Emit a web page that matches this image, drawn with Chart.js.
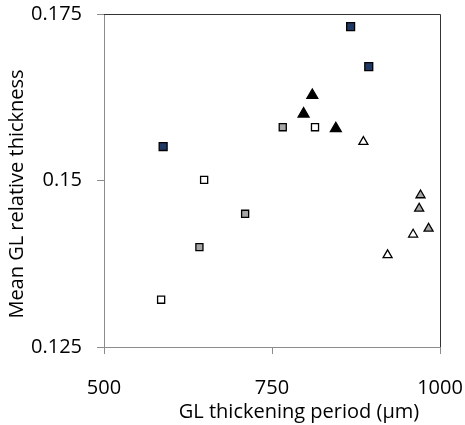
<!DOCTYPE html>
<html>
<head>
<meta charset="utf-8">
<script src="https://cdn.jsdelivr.net/npm/chart.js@4/dist/chart.umd.min.js"></script>
<style>
  html, body { margin: 0; padding: 0; background: #fff; }
  #wrap { width: 465px; height: 425px; }
</style>
</head>
<body>
<div id="wrap"><canvas id="scatter" width="465" height="425"></canvas></div>
<script>
const ctx = document.getElementById("scatter").getContext("2d");

// assi
const X_TITLE = "GL thickening period (µm)";
const Y_TITLE = "Mean GL relative thickness";
const xTicks = [500, 750, 1000];
const yTicks = [0.125, 0.15, 0.175];

// quadrati blu
const navySqX = [867, 894, 588];
const navySqY = [0.1731, 0.1671, 0.1551];
// quadrati grigi
const graySqX = [766, 710, 642];
const graySqY = [0.158, 0.145, 0.140];
// quadrati bianchi
const whiteSqX = [814, 649, 585];
const whiteSqY = [0.158, 0.1501, 0.1321];
// triangoli neri
const blackTriX = [810, 797, 845];
const blackTriY = [0.1628, 0.160, 0.1578];
// triangoli bianchi
const whiteTriX = [886, 960, 922];
const whiteTriY = [0.1558, 0.1419, 0.1388];
// triangoli grigi
const grayTriX = [971, 969, 983];
const grayTriY = [0.1478, 0.1458, 0.1428];

const FONT = "'Open Sans', sans-serif";

function punti(xs, ys) {
    return xs.map((x, i) => ({ x: x, y: ys[i] }));
}

function serie(label, xs, ys, shape, fill, radius) {
    return {
        label: label,
        data: punti(xs, ys),
        pointStyle: shape,
        pointRadius: radius,
        pointHoverRadius: radius,
        backgroundColor: fill,
        borderColor: "#000000",
        borderWidth: 1.3,
        showLine: false
    };
}

// bordo sopra e a destra + titoli assi
const cornice = {
    id: "cornice",
    afterDraw(chart) {
        const a = chart.chartArea;
        const c = chart.ctx;
        c.save();
        c.strokeStyle = "#333333";
        c.lineWidth = 1;
        c.beginPath();
        c.moveTo(a.left, a.top + 0.5);
        c.lineTo(a.right + 0.5, a.top + 0.5);
        c.lineTo(a.right + 0.5, a.bottom);
        c.stroke();

        c.fillStyle = "#000000";
        c.font = "20px " + FONT;
        c.textAlign = "center";
        c.textBaseline = "alphabetic";
        c.fillText(X_TITLE, 299, 418);
        c.translate(23, 194);
        c.rotate(-Math.PI / 2);
        c.fillText(Y_TITLE, 0, 0);
        c.restore();
    }
};

const chart = new Chart(ctx,
    {
        type: "scatter",
        data:
        {
            datasets:
                [
                    serie("A", navySqX, navySqY, "rect", "#1f3864", 5.6),
                    serie("B", graySqX, graySqY, "rect", "#a6a6a6", 5),
                    serie("C", whiteSqX, whiteSqY, "rect", "#ffffff", 5),
                    serie("D", blackTriX, blackTriY, "triangle", "#000000", 6.3),
                    serie("E", whiteTriX, whiteTriY, "triangle", "#ffffff", 5.2),
                    serie("F", grayTriX, grayTriY, "triangle", "#a6a6a6", 5.2)
                ]
        },
        options:
        {
            responsive: false,
            animation: false,
            layout: { padding: { top: 14, right: 25, left: 0, bottom: 0 } },
            plugins:
            {
                legend: { display: false },
                tooltip: { enabled: false }
            },
            scales:
            {
                x:
                {
                    type: "linear",
                    min: 500,
                    max: 1000,
                    afterBuildTicks: s => { s.ticks = xTicks.map(v => ({ value: v })); },
                    afterFit: s => { s.height = 78; s.paddingLeft = 0; s.paddingRight = 0; },
                    border: { display: true, color: "#8c8c8c", width: 1 },
                    grid: { drawOnChartArea: false, drawTicks: true, tickLength: 7, color: "#8c8c8c" },
                    ticks:
                    {
                        color: "#000",
                        padding: 22,
                        font: { family: FONT, size: 20 },
                        maxRotation: 0,
                        callback: v => String(v)
                    }
                },
                y:
                {
                    type: "linear",
                    min: 0.125,
                    max: 0.175,
                    afterBuildTicks: s => { s.ticks = yTicks.map(v => ({ value: v })); },
                    afterFit: s => { s.width = 104; s.paddingTop = 0; s.paddingBottom = 0; },
                    border: { display: true, color: "#8c8c8c", width: 1 },
                    grid: { drawOnChartArea: false, drawTicks: true, tickLength: 7, color: "#8c8c8c" },
                    ticks:
                    {
                        color: "#000",
                        padding: 15,
                        font: { family: FONT, size: 20 },
                        callback: v => String(v)
                    }
                }
            }
        },
        plugins: [cornice]
    });
</script>
</body>
</html>
